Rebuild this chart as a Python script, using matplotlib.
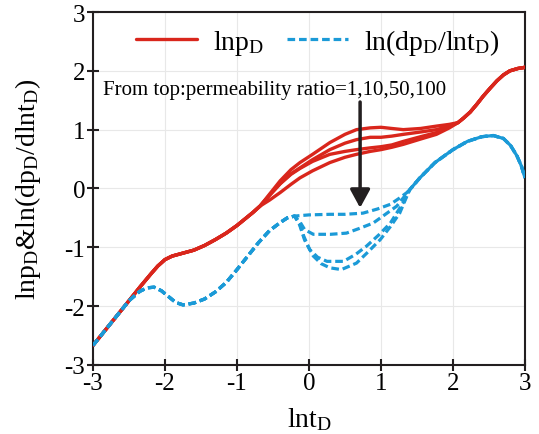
import numpy as np
import matplotlib
matplotlib.use("Agg")
import matplotlib.pyplot as plt

plt.rcParams['font.family'] = ['Liberation Serif', 'DejaVu Serif']
plt.rcParams['mathtext.fontset'] = 'custom'
plt.rcParams['mathtext.rm'] = 'Liberation Serif'
plt.rcParams['mathtext.it'] = 'Liberation Serif:italic'
plt.rcParams['axes.unicode_minus'] = False
plt.rcParams['lines.scale_dashes'] = False

# ---------------- data ----------------
ratios = [1, 10, 50, 100]

# shared early part of lnpD
red_early_x = [-3.0, -2.75, -2.5, -2.35, -2.2, -2.1, -2.0, -1.9, -1.75, -1.6, -1.45, -1.3, -1.15, -1.0, -0.87, -0.78]
red_early_y = [-2.67, -2.29, -1.91, -1.68, -1.46, -1.32, -1.21, -1.15, -1.10, -1.05, -0.97, -0.87, -0.76, -0.63, -0.50, -0.41]

# middle parts of lnpD, one per permeability ratio
red_mid_x = {
    1:   [-0.68, -0.55, -0.4, -0.25, -0.125, 0.05, 0.29, 0.5, 0.66, 0.85, 1.0, 1.15, 1.31, 1.55, 1.77, 1.95, 2.07],
    10:  [-0.68, -0.55, -0.4, -0.25, -0.125, 0.05, 0.29, 0.5, 0.66, 0.85, 1.0, 1.15, 1.31, 1.55, 1.77, 1.95, 2.07],
    50:  [-0.68, -0.55, -0.4, -0.25, -0.125, 0.05, 0.29, 0.5, 0.66, 0.85, 1.0, 1.15, 1.31, 1.55, 1.77, 1.95, 2.07],
    100: [-0.68, -0.55, -0.4, -0.25, -0.125, 0.05, 0.29, 0.5, 0.66, 0.85, 1.0, 1.15, 1.31, 1.55, 1.77, 1.95, 2.07],
}
red_mid_y = {
    1:   [-0.30, -0.10, 0.13, 0.32, 0.44, 0.58, 0.78, 0.92, 1.00, 1.03, 1.04, 1.02, 1.00, 1.02, 1.06, 1.09, 1.12],
    10:  [-0.30, -0.12, 0.08, 0.25, 0.35, 0.49, 0.66, 0.77, 0.83, 0.87, 0.87, 0.89, 0.92, 0.96, 1.00, 1.06, 1.12],
    50:  [-0.30, -0.12, 0.08, 0.24, 0.34, 0.46, 0.58, 0.63, 0.66, 0.69, 0.71, 0.74, 0.80, 0.88, 0.95, 1.05, 1.12],
    100: [-0.30, -0.20, -0.07, 0.07, 0.18, 0.30, 0.44, 0.53, 0.58, 0.63, 0.66, 0.70, 0.75, 0.84, 0.92, 1.03, 1.12],
}

# shared late part of lnpD
red_late_x = [2.15, 2.24, 2.33, 2.42, 2.52, 2.61, 2.7, 2.79, 2.9, 3.0]
red_late_y = [1.20, 1.30, 1.43, 1.57, 1.71, 1.83, 1.93, 2.00, 2.04, 2.06]

# shared early part of ln(dpD/dlntD)
blue_early_x = [-3.0, -2.75, -2.5, -2.35, -2.25, -2.15, -2.05, -1.95, -1.85, -1.75, -1.6, -1.45, -1.3, -1.15, -1.0, -0.85, -0.7, -0.55, -0.4, -0.3]
blue_early_y = [-2.67, -2.29, -1.91, -1.75, -1.69, -1.68, -1.74, -1.84, -1.94, -1.98, -1.95, -1.88, -1.76, -1.60, -1.38, -1.15, -0.92, -0.72, -0.58, -0.50]

blue_mid_x = {
    1:   [-0.2, 0.0, 0.29, 0.5, 0.75, 0.95, 1.13, 1.25, 1.36, 1.4],
    10:  [-0.2, -0.12, -0.06, 0.06, 0.3, 0.52, 0.7, 0.89, 1.05, 1.22, 1.4],
    50:  [-0.2, -0.13, -0.07, 0.01, 0.12, 0.25, 0.48, 0.65, 0.8, 0.97, 1.13, 1.31, 1.4],
    100: [-0.2, -0.13, -0.06, 0.06, 0.17, 0.29, 0.45, 0.66, 0.82, 0.99, 1.13, 1.26, 1.36, 1.4],
}
blue_mid_y = {
    1:   [-0.47, -0.45, -0.44, -0.44, -0.42, -0.35, -0.27, -0.17, -0.07, -0.02],
    10:  [-0.47, -0.58, -0.70, -0.78, -0.78, -0.76, -0.68, -0.59, -0.45, -0.30, -0.02],
    50:  [-0.47, -0.60, -0.82, -1.04, -1.17, -1.24, -1.24, -1.12, -0.98, -0.79, -0.59, -0.24, -0.02],
    100: [-0.47, -0.62, -0.88, -1.15, -1.28, -1.35, -1.38, -1.27, -1.08, -0.87, -0.65, -0.42, -0.13, -0.02],
}

blue_late_x = [1.54, 1.75, 2.0, 2.2, 2.4, 2.56, 2.7, 2.8, 2.89, 2.95, 3.0]
blue_late_y = [0.18, 0.44, 0.66, 0.80, 0.88, 0.90, 0.85, 0.73, 0.55, 0.38, 0.18]

xticks = [-3, -2, -1, 0, 1, 2, 3]
yticks = [-3, -2, -1, 0, 1, 2, 3]

RED = '#d9261c'
BLUE = '#1b9ad7'

# ---------------- figure ----------------
fig = plt.figure(figsize=(5.39, 4.35), dpi=100)
ax = fig.add_axes([0.1725, 0.159, 0.8015, 0.811])

for r in ratios:
    x = np.concatenate([red_early_x, red_mid_x[r], red_late_x])
    y = np.concatenate([red_early_y, red_mid_y[r], red_late_y])
    ax.plot(x, y, color=RED, lw=2.4, solid_joinstyle='round', solid_capstyle='round', zorder=3,
            label=r'$\mathrm{lnp_D}$' if r == 1 else None)

for r in ratios:
    x = np.concatenate([blue_early_x, blue_mid_x[r], blue_late_x])
    y = np.concatenate([blue_early_y, blue_mid_y[r], blue_late_y])
    ax.plot(x, y, color=BLUE, lw=2.3, dashes=(5.5, 2.8), zorder=4,
            label=r'$\mathrm{ln(dp_D/lnt_D)}$' if r == 1 else None)

ax.set_xlim(-3, 3)
ax.set_ylim(-3, 3)
ax.set_xticks(xticks)
ax.set_yticks(yticks)
ax.set_xticklabels([str(t) for t in xticks])
ax.set_yticklabels([str(t) for t in yticks])
ax.tick_params(direction='inout', length=9, width=1.5, labelsize=18, color='#231f20', pad=1)
ax.grid(True, color='#e8e8e8', lw=0.8, zorder=0)
for s in ax.spines.values():
    s.set_linewidth(1.5)
    s.set_color('#231f20')

ax.set_xlabel(r'$\mathrm{lnt_D}$', fontsize=20)
ax.xaxis.set_label_coords(0.5, -0.115)
ax.set_ylabel(r'$\mathrm{lnp_D}$&$\mathrm{ln(dp_D/dlnt_D)}$', fontsize=20)
ax.yaxis.set_label_coords(-0.115, 0.5)

ax.legend(loc='center', bbox_to_anchor=(0.52, 0.915), ncol=2, frameon=False, fontsize=20,
          handlelength=2.2, columnspacing=0.8, handletextpad=0.6)

ax.text(-2.86, 1.69, 'From top:permeability ratio=1,10,50,100', fontsize=15, va='center', ha='left')
ax.annotate('', xy=(0.71, -0.33), xytext=(0.71, 1.47),
            arrowprops=dict(arrowstyle='-|>,head_width=0.3,head_length=0.55', color='#231f20',
                            lw=2.5, mutation_scale=20, shrinkA=0, shrinkB=0), zorder=5)

fig.savefig('out.png', dpi=100)
